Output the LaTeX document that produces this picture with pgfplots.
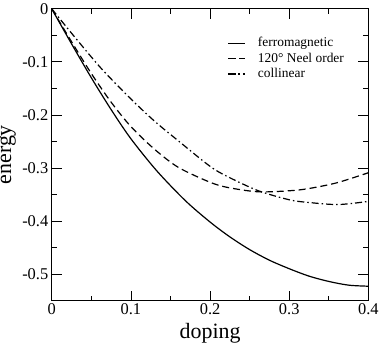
\documentclass[border=0pt]{standalone}
\usepackage{fontspec}
\setmainfont{Liberation Serif}
\usepackage{pgfplots}
\pgfplotsset{compat=1.18}
\begin{document}
\begin{tikzpicture}
\begin{axis}[
  scale only axis,
  width=317bp, height=292bp,
  xmin=0, xmax=0.4, ymin=-0.55, ymax=0,
  xtick={0,0.1,0.2,0.3,0.4},
  xticklabels={\mbox{0},\mbox{0.1},\mbox{0.2},\mbox{0.3},\mbox{0.4}},
  ytick={-0.5,-0.4,-0.3,-0.2,-0.1,0},
  yticklabels={\mbox{-0.5},\mbox{-0.4},\mbox{-0.3},\mbox{-0.2},\mbox{-0.1},\mbox{0}},
  minor x tick num=1, minor y tick num=1,
  tick align=inside,
  major tick length=10bp, minor tick length=5bp,
  every tick/.style={black, line width=0.8bp},
  axis line style={line width=0.9bp},
  tick label style={font=\fontsize{16.5}{16.5}\selectfont},
  xlabel={doping}, ylabel={energy},
  xlabel style={font=\fontsize{22}{22}\selectfont, inner sep=0pt, at={(axis description cs:0.5,-0.13)}, anchor=base},
  ylabel style={font=\fontsize{22}{22}\selectfont, inner sep=0pt, at={(axis description cs:-0.128,0.5)}, anchor=base},
  legend style={draw=none, fill=none, font=\fontsize{13.5}{15}\selectfont,
    at={(axis cs:0.2221,-0.052)}, anchor=north west, inner sep=0pt,
    row sep=2.5bp, column sep=12bp,
    nodes={inner sep=0pt, text height=10bp, text depth=3bp}},
  legend cell align=left,
]
\addplot[black, line width=1.2bp, smooth] coordinates {
(0,0) (0.025,-0.066) (0.05,-0.13) (0.075,-0.19) (0.1,-0.245) (0.133,-0.306) (0.169,-0.362) (0.2,-0.402) (0.225,-0.430) (0.25,-0.454) (0.275,-0.474) (0.3,-0.490) (0.325,-0.504) (0.35,-0.514) (0.375,-0.521) (0.4,-0.523)
};
\addlegendentry{ferromagnetic}
\addplot[black, line width=1.2bp, smooth, dash pattern=on 7bp off 4bp] coordinates {
(0,0) (0.025,-0.062) (0.05,-0.122) (0.075,-0.176) (0.1,-0.222) (0.13,-0.265) (0.16,-0.299) (0.2,-0.327) (0.223,-0.337) (0.261,-0.345) (0.3,-0.343) (0.324,-0.339) (0.36,-0.328) (0.4,-0.309)
};
\addlegendentry{120° Neel order}
\addplot[black, line width=1.2bp, smooth, dash pattern=on 7bp off 3bp on 1.5bp off 3bp] coordinates {
(0,0) (0.03,-0.055) (0.0635,-0.114) (0.1,-0.170) (0.13,-0.212) (0.16,-0.249) (0.2,-0.297) (0.223,-0.317) (0.261,-0.343) (0.3,-0.360) (0.324,-0.365) (0.362,-0.369) (0.4,-0.363)
};
\addlegendentry{collinear}
\end{axis}
\end{tikzpicture}
\end{document}
